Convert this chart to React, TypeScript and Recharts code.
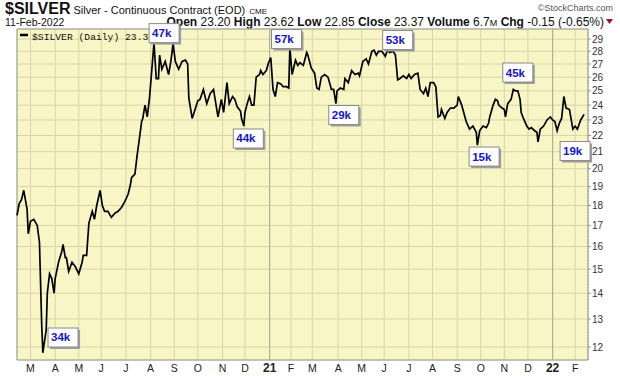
import { LineChart, Line, XAxis, YAxis, CartesianGrid, ReferenceLine, ReferenceDot, ReferenceArea, Customized } from 'recharts'

// trading-day index since 12-Feb-2020, and the close
const days = [
  0, 2, 4, 6, 9, 10, 12, 15, 18, 20, 21, 22, 23, 26, 27, 29, 31, 33, 34, 37, 40, 41, 43, 44, 46, 49,
  52, 55, 58, 59, 62, 64, 67, 69, 71, 74, 76, 78, 81, 84, 87, 90, 93, 96, 99, 101, 102, 105, 107, 109,
  111, 112, 114, 116, 118, 120, 122, 124, 126, 127, 129, 132, 135, 137, 139, 141, 144, 147, 150, 152,
  153, 156, 159, 161, 163, 166, 169, 172, 175, 179, 182, 184, 187, 189, 192, 194, 196, 199, 200, 202,
  203, 205, 207, 209, 211, 213, 216, 217, 219, 222, 224, 226, 228, 230, 232, 235, 237, 240, 242, 243,
  245, 248, 250, 252, 255, 258, 259, 262, 265, 267, 269, 271, 274, 277, 280, 282, 284, 285, 288, 291,
  292, 295, 298, 301, 304, 305, 308, 311, 313, 316, 318, 320, 322, 325, 328, 330, 332, 335, 337, 339,
  341, 344, 347, 349, 351, 354, 357, 359, 362, 364, 366, 368, 371, 373, 375, 377, 378, 381, 383, 386,
  389, 392, 393, 396, 400, 403, 406, 409, 410, 412, 415, 418, 420, 421, 424, 426, 428, 429, 432, 434,
  435, 437, 440, 442, 444, 446, 448, 449, 451, 454, 456, 458, 461, 463, 464, 466, 469, 472, 475, 477,
  479, 481, 483, 485, 487, 489, 492, 495, 497, 499, 502, 505,
]
const closes = [
  17.5, 18.1, 18.3, 18.8, 17.8, 16.6, 17.2, 17.3, 17.0, 16.2, 14.4, 12.8, 11.8, 12.6, 14.0, 14.8, 14.6, 14.0, 14.6, 15.3, 15.8, 16.1, 15.5, 15.5, 14.9, 15.3,
  15.1, 14.8, 15.3, 15.6, 15.6, 17.1, 17.7, 17.3, 18.0, 18.8, 18.0, 17.7, 17.7, 17.4, 17.6, 17.7, 17.9, 18.2, 18.6, 19.1, 19.5, 19.7, 20.8, 21.8,
  22.9, 23.1, 24.0, 23.2, 24.5, 26.5, 28.7, 25.9, 25.9, 27.7, 26.6, 27.2, 26.2, 27.2, 28.6, 27.2, 26.6, 27.2, 27.3, 27.0,
  24.5, 23.1, 23.8, 24.3, 24.4, 25.1, 24.1, 24.8, 25.1, 23.2, 24.4, 23.5, 25.6, 24.1, 24.6, 24.4, 23.9, 23.6, 23.1, 22.6,
  23.5, 24.1, 24.6, 24.0, 24.0, 26.0, 26.2, 26.5, 26.2, 26.5, 27.1, 27.5, 25.1, 24.6, 25.6, 25.5, 25.3, 25.3, 25.2, 28.3,
  26.2, 27.3, 26.9, 27.1, 26.9, 27.9, 27.7, 26.7, 26.3, 25.2, 25.1, 26.0, 26.2, 26.0, 25.1, 25.1, 24.1, 25.0, 25.2, 25.1,
  25.9, 25.6, 26.5, 26.2, 26.3, 26.1, 27.2, 27.4, 27.0, 28.0, 28.1, 27.7, 28.0, 28.0, 27.6, 28.1, 27.9, 28.0, 27.7, 25.8,
  25.9, 26.1, 25.9, 26.2, 25.9, 26.2, 26.3, 25.1, 24.8, 25.2, 24.6, 25.6, 25.6, 25.3, 23.2, 23.3, 23.7, 23.1, 23.5, 23.8,
  23.8, 24.0, 24.6, 24.0, 22.9, 22.4, 22.6, 22.2, 21.4, 22.3, 22.6, 22.5, 22.8, 23.2, 24.0, 24.4, 24.3, 24.0, 23.8, 23.7,
  23.2, 24.1, 24.4, 25.1, 25.0, 25.0, 24.4, 23.5, 23.1, 22.6, 22.4, 22.5, 22.3, 22.2, 21.6, 22.4, 22.6, 23.0, 23.2, 23.0,
  22.9, 22.3, 22.8, 23.1, 24.6, 23.8, 23.7, 22.4, 22.6, 22.4, 23.0, 23.37,
]

const monthDays = [12, 34, 55, 75, 97, 119, 140, 161, 183, 203, 225, 244, 263, 286, 307, 327, 349, 370, 392, 413, 434, 455, 477, 497]
const monthLabels = ['M', 'A', 'M', 'J', 'J', 'A', 'S', 'O', 'N', 'D', '21', 'F', 'M', 'A', 'M', 'J', 'J', 'A', 'S', 'O', 'N', 'D', '22', 'F']
const yearDays = [225, 477]
const priceTicks = [12, 13, 14, 15, 16, 17, 18, 19, 20, 21, 22, 23, 24, 25, 26, 27, 28, 29]

// volume call-outs: label, trading day and price level of the box centre
const volLabels = ['34k', '47k', '57k', '44k', '29k', '53k', '45k', '15k', '19k']
const volDays = [41, 131, 240, 206, 291, 339, 446, 416, 497]
const volLevels = [12.33, 29.5, 29.0, 21.81, 23.33, 28.92, 26.35, 20.71, 21.04]

const data = days.map((day, i) => ({ day, close: closes[i] }))

const font = "'Liberation Sans', Arial, sans-serif"

function MonthTick({ x, y, payload }: any) {
  const label = monthLabels[monthDays.indexOf(payload.value)]
  const isYear = /\d/.test(label)
  return (
    <text x={x} y={y} dy="0.355em" textAnchor="middle" fontFamily={font}
      fontSize={isYear ? 12 : 10.5} fontWeight={isYear ? 'bold' : 'normal'} fill="#222">
      {label}
    </text>
  )
}

const volBox = (label: string) => (props: any) => {
  const { cx, cy } = props
  return (
    <g>
      <rect x={cx - 13} y={cy - 7.5} width={30} height={19} fill="#9e9e9e" />
      <rect x={cx - 15} y={cy - 9.5} width={30} height={19} fill="#fff" stroke="#8a8a8a" />
      <text x={cx - 12} y={cy + 4} fontFamily={font} fontSize={11.5} fontWeight="bold" fill="#1414c8">{label}</text>
    </g>
  )
}

function SeriesLegend() {
  return (
    <g>
      <line x1={20} x2={28} y1={35} y2={35} stroke="#000" strokeWidth={2.5} />
      <text x={32} y={39.5} fontFamily="'Liberation Mono', 'DejaVu Sans Mono', monospace" fontSize={9.7} fill="#111">
        $SILVER (Daily) 23.37
      </text>
    </g>
  )
}

export default function App() {
  return (
    <div style={{ position: 'absolute', left: 0, top: 0, width: 620, height: 376, background: '#fff' }}>
      <svg width={620} height={30} style={{ position: 'absolute', left: 0, top: 0 }} fontFamily={font}>
        <text x={5} y={14} fill="#111">
          <tspan fontSize={16} fontWeight="bold">$SILVER</tspan>
          <tspan fontSize={11} dx={3}>Silver - Continuous Contract (EOD)</tspan>
          <tspan fontSize={8} dx={4}>CME</tspan>
        </text>
        <text x={613} y={11} fontSize={9} fill="#555" textAnchor="end">©StockCharts.com</text>
        <text x={5} y={25.5} fontSize={10.5} fill="#111">11-Feb-2022</text>
        <text x={604} y={25.5} fontSize={12} textAnchor="end" fill="#111">
          <tspan fontWeight="bold">Open</tspan>{' 23.20 '}
          <tspan fontWeight="bold">High</tspan>{' 23.62 '}
          <tspan fontWeight="bold">Low</tspan>{' 22.85 '}
          <tspan fontWeight="bold">Close</tspan>{' 23.37 '}
          <tspan fontWeight="bold">Volume</tspan>{' 6.7'}
          <tspan fontSize={9}>M</tspan>{' '}
          <tspan fontWeight="bold">Chg</tspan>{' -0.15 (-0.65%)'}
        </text>
        <polygon points="606,19 613,19 609.5,24" fill="#9a1238" />
      </svg>
      <div style={{ position: 'absolute', left: 0, top: 0 }}>
        <LineChart width={620} height={376} data={data} margin={{ top: 29, right: 0, bottom: 0, left: 17 }}>
          <CartesianGrid fill="#F8F6C5" fillOpacity={1} stroke="#D8D5AA" strokeWidth={1} />
          <XAxis dataKey="day" type="number" domain={[0, 508.5]} ticks={monthDays} interval={0}
            tick={<MonthTick />} tickLine={false} axisLine={false} tickSize={0} tickMargin={8} height={16} />
          <YAxis orientation="right" type="number" scale="log" domain={[11.56, 29.85]} allowDataOverflow
            ticks={priceTicks} interval={0} width={32} tickSize={3} tickMargin={1}
            tick={{ fontSize: 10, fill: '#333', fontFamily: font }}
            tickLine={{ stroke: '#999' }} axisLine={{ stroke: '#999', strokeDasharray: '1 2' }} />
          {yearDays.map((d) => (
            <ReferenceLine key={d} x={d} stroke="#ABA996" strokeWidth={1} />
          ))}
          <ReferenceArea x1={0} x2={508.5} y1={11.56} y2={29.85} fill="none" stroke="#9c9c9c" strokeWidth={1} />
          <Customized component={SeriesLegend} />
          <Line dataKey="close" type="linear" stroke="#000" strokeWidth={1.7} dot={false} isAnimationActive={false} />
          {volLabels.map((label, i) => (
            <ReferenceDot key={label} x={volDays[i]} y={volLevels[i]} r={0} ifOverflow="visible" shape={volBox(label)} />
          ))}
        </LineChart>
      </div>
    </div>
  )
}
